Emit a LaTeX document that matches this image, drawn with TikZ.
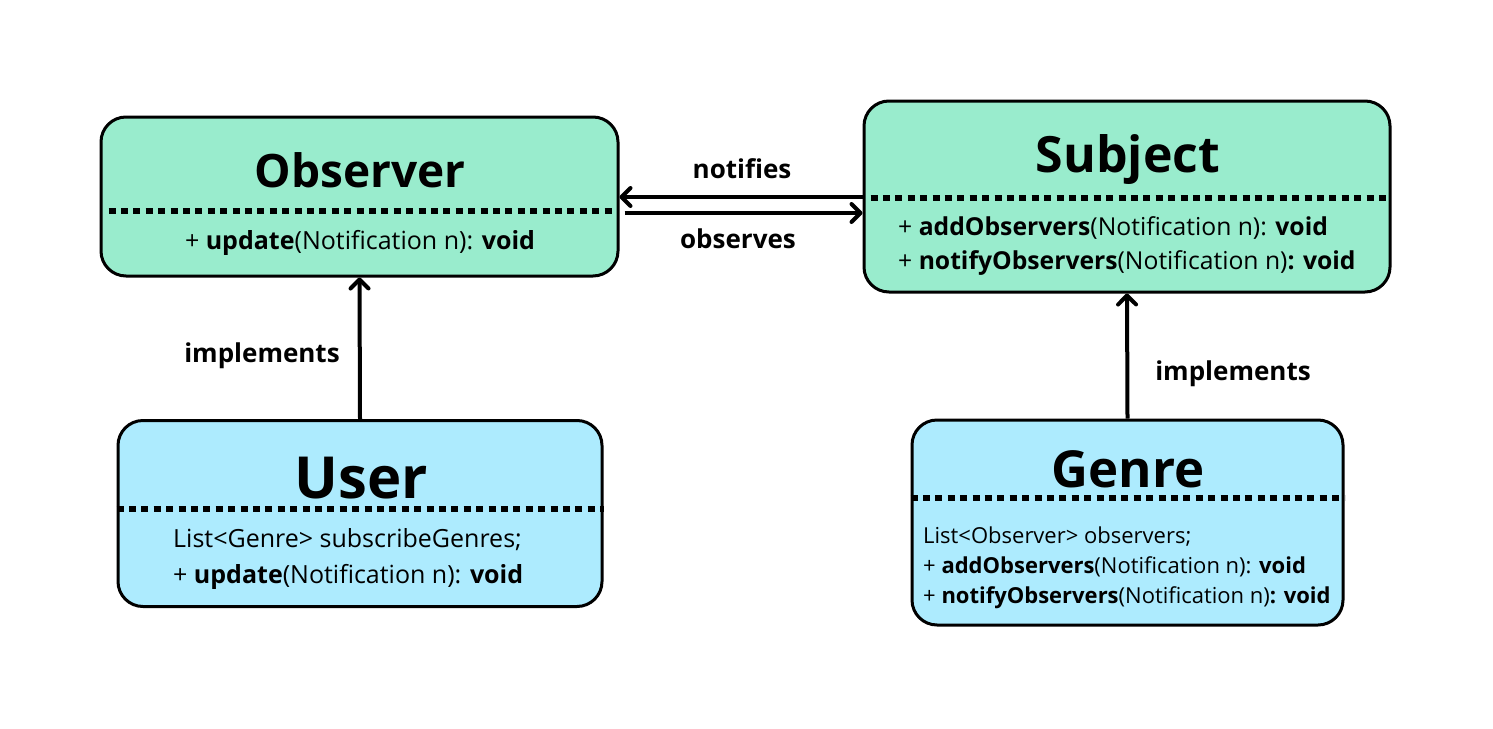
\documentclass[tikz,border=0pt]{standalone}
\usepackage{fontspec}
\setmainfont{Open Sans}
\usetikzlibrary{arrows.meta}
\definecolor{grn}{HTML}{99ECCD}
\definecolor{blu}{HTML}{ADEBFE}
\begin{document}
\begin{tikzpicture}[x=1pt,y=-1pt,
 box/.style={draw=black, line width=3pt, rounded corners=25pt, inner sep=0pt},
 sep/.style={line width=6pt, dash pattern=on 7pt off 5.4pt},
 conn/.style={line width=4pt, -{Straight Barb[length=9pt,width=18pt,line width=4pt,line cap=round,line join=round]}},
 ttl/.style={anchor=base, inner sep=0pt, font=\bfseries\fontsize{46}{46}\selectfont},
 bodyc/.style={anchor=base, inner sep=0pt, font=\fontsize{25}{25}\selectfont},
 bodyl/.style={anchor=base west, inner sep=0pt, font=\fontsize{25}{25}\selectfont},
 lbl/.style={anchor=base, inner sep=0pt, font=\bfseries\fontsize{26}{26}\selectfont}]
\useasboundingbox[fill=white] (0,0) rectangle (1493,728);

% boxes
\node[box, fill=grn, minimum width=517pt, minimum height=159pt] (obs) at (359.5,196.5) {};
\node[box, fill=grn, minimum width=526pt, minimum height=191pt] (sub) at (1127,196.5) {};
\node[box, fill=blu, minimum width=484pt, minimum height=186pt] (usr) at (360,513.5) {};
\node[box, fill=blu, minimum width=431pt, minimum height=205pt] (gen) at (1127.5,522.5) {};

% separators
\draw[sep] ([xshift=9pt]obs.west |- 0,211) -- ([xshift=-6pt]obs.east |- 0,211);
\draw[sep] ([xshift=8pt]sub.west |- 0,198) -- ([xshift=-6pt]sub.east |- 0,198);
\draw[sep] (usr.west |- 0,509) -- (usr.east |- 0,509);
\draw[sep] (gen.west |- 0,498) -- (gen.east |- 0,498);

% titles
\node[ttl] (obsT) at (360,187) {Observer};
\node[ttl, font=\bfseries\fontsize{50}{50}\selectfont] (subT) at (1128,172) {Subject};
\node[ttl, font=\bfseries\fontsize{58}{58}\selectfont] (usrT) at (361,498) {User};
\node[ttl, font=\bfseries\fontsize{51}{51}\selectfont] (genT) at (1128,487) {Genre};

% members
\node[bodyc] (obsM) at (360,249) {+ \textbf{update}(Notification n): \textbf{void}};
\node[bodyl, font=\fontsize{24.7}{24.7}\selectfont] (subM1) at (898,235) {+ \textbf{addObservers}(Notification n): \textbf{void}};
\node[bodyl, font=\fontsize{24.7}{24.7}\selectfont] (subM2) at (898,269) {+ \textbf{notifyObservers}(Notification n)\textbf{: void}};
\node[bodyl] (usrM1) at (173,547) {List<Genre> subscribeGenres;};
\node[bodyl] (usrM2) at (173,583) {+ \textbf{update}(Notification n): \textbf{void}};
\node[bodyl, font=\fontsize{22}{22}\selectfont] (genM1) at (923,543) {List<Observer> observers;};
\node[bodyl, font=\fontsize{22}{22}\selectfont] (genM2) at (923,573) {+ \textbf{addObservers}(Notification n): \textbf{void}};
\node[bodyl, font=\fontsize{22}{22}\selectfont] (genM3) at (923,603) {+ \textbf{notifyObservers}(Notification n)\textbf{: void}};

% connectors
\draw[conn] (sub.west |- 0,197) -- (obs.east |- 0,197);
\draw[conn] ([xshift=5pt]obs.east |- 0,213) -- (sub.west |- 0,213);
\draw[conn] (usr.north) -- (obs.south);
\draw[conn] (gen.north) -- (sub.south);

% labels
\node[lbl] (lNot) at (742,178) {notifies};
\node[lbl] (lObs) at (738,248) {observes};
\node[lbl] (lImp1) at (262,362) {implements};
\node[lbl] (lImp2) at (1233,380) {implements};
\end{tikzpicture}
\end{document}
